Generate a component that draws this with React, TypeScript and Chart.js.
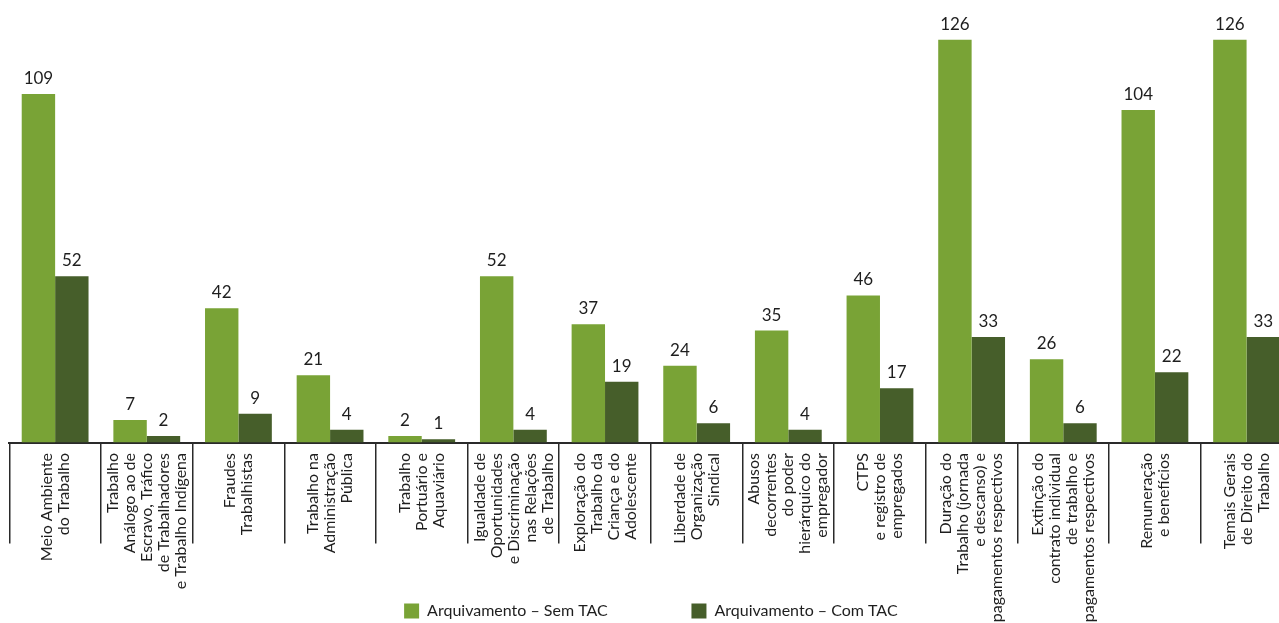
import React, { useEffect, useRef } from "react";
import { Chart, registerables } from "chart.js";

Chart.register(...registerables);

// ---------- data ----------
const categoryLines: string[][] = [
  ["Meio Ambiente", "do Trabalho"],
  ["Trabalho", "Análogo ao de", "Escravo, Tráfico", "de Trabalhadores", "e Trabalho Indígena"],
  ["Fraudes", "Trabalhistas"],
  ["Trabalho na", "Administração", "Pública"],
  ["Trabalho", "Portuário e", "Aquaviário"],
  ["Igualdade de", "Oportunidades", "e Discriminação", "nas Relações", "de Trabalho"],
  ["Exploração do", "Trabalho da", "Criança e do", "Adolescente"],
  ["Liberdade de", "Organização", "Sindical"],
  ["Abusos", "decorrentes", "do poder", "hierárquico do", "empregador"],
  ["CTPS", "e registro de", "empregados"],
  ["Duração do", "Trabalho (jornada", "e descanso) e", "pagamentos respectivos"],
  ["Extinção do", "contrato individual", "de trabalho e", "pagamentos respectivos"],
  ["Remuneração", "e benefícios"],
  ["Temais Gerais", "de Direito do", "Trabalho"],
];

const semTAC: number[] = [109, 7, 42, 21, 2, 52, 37, 24, 35, 46, 126, 26, 104, 126];
const comTAC: number[] = [52, 2, 9, 4, 1, 4, 19, 6, 4, 17, 33, 6, 22, 33];

const seriesNames: string[] = ["Arquivamento – Sem TAC", "Arquivamento – Com TAC"];

const yMin = 0;
const yMax = 138.4;

// ---------- styles ----------
const GREEN = "#79a336";
const DARK = "#465e2a";
const TEXT = "#1e1e1e";
const LINE = "#2a2a2a";
const FONT = "Lato, 'Open Sans', sans-serif";
const VALUE_FONT_SIZE = 17;
const TICK_FONT_SIZE = 16;
const LEGEND_FONT_SIZE = 16;
const LINE_H = 17;
const LEGEND_BOX = 15;
const LEGEND_ITEM_STEP = 288; // distance from first legend box to second

const CANVAS_W = 1300;
const CANVAS_H = 629;
const PAD_LEFT = 9.3;
const PAD_RIGHT = CANVAS_W - (9.3 + 14 * 91.65);

const valueLabelPlugin = {
  id: "valueLabels",
  afterDatasetsDraw(chart: any) {
    const ctx = chart.ctx;
    ctx.save();
    ctx.font = `${VALUE_FONT_SIZE}px ${FONT}`;
    ctx.fillStyle = TEXT;
    ctx.textAlign = "center";
    ctx.textBaseline = "alphabetic";
    chart.data.datasets.forEach((ds: any, di: number) => {
      const meta = chart.getDatasetMeta(di);
      meta.data.forEach((el: any, i: number) => {
        ctx.fillText(String(ds.data[i]), el.x, el.y - 10);
      });
    });
    ctx.restore();
  },
};

const categoryLabelPlugin = {
  id: "categoryLabels",
  afterDraw(chart: any) {
    const ctx = chart.ctx;
    const xs = chart.scales.x;
    const top = xs.top + 10.5;
    ctx.save();
    ctx.font = `${TICK_FONT_SIZE}px ${FONT}`;
    ctx.fillStyle = TEXT;
    ctx.textAlign = "right";
    ctx.textBaseline = "middle";
    categoryLines.forEach((lines, i) => {
      const cx = xs.getPixelForValue(i);
      const n = lines.length;
      lines.forEach((line, j) => {
        const lx = cx + (j - (n - 1) / 2) * LINE_H;
        ctx.save();
        ctx.translate(lx, top);
        ctx.rotate(-Math.PI / 2);
        ctx.fillText(line, 0, 0);
        ctx.restore();
      });
    });
    ctx.restore();
  },
};

function legendSpacer(): string {
  const c = document.createElement("canvas").getContext("2d");
  if (!c) return " ".repeat(18);
  c.font = `${LEGEND_FONT_SIZE}px ${FONT}`;
  const w1 = c.measureText(seriesNames[0]).width;
  const sw = c.measureText(" ").width || 4;
  const need = LEGEND_ITEM_STEP - 10 - LEGEND_BOX - LEGEND_FONT_SIZE / 2 - w1;
  return " ".repeat(Math.max(0, Math.round(need / sw)));
}

export default function App() {
  const canvasRef = useRef<HTMLCanvasElement | null>(null);

  useEffect(() => {
    if (!canvasRef.current) return;
    Chart.defaults.font.family = FONT;
    const spacer = legendSpacer();
    const chart = new Chart(canvasRef.current, {
      type: "bar",
      data: {
        labels: categoryLines.map((l) => l.join(" ")),
        datasets: [
          {
            label: seriesNames[0],
            data: semTAC,
            backgroundColor: GREEN,
            borderWidth: 0,
            barPercentage: 1,
            categoryPercentage: 0.729,
          },
          {
            label: seriesNames[1],
            data: comTAC,
            backgroundColor: DARK,
            borderWidth: 0,
            barPercentage: 1,
            categoryPercentage: 0.729,
          },
        ],
      },
      options: {
        animation: false,
        responsive: true,
        maintainAspectRatio: false,
        layout: { padding: { left: PAD_LEFT, right: PAD_RIGHT, top: 0, bottom: 0 } },
        scales: {
          x: {
            grid: {
              offset: true,
              drawOnChartArea: false,
              drawTicks: true,
              tickLength: 101,
              color: LINE,
              lineWidth: 1.5,
            },
            border: { display: true, color: LINE, width: 2 },
            ticks: { display: false },
            afterFit: (s: any) => {
              s.height = 150.5;
            },
          },
          y: { display: false, min: yMin, max: yMax },
        },
        plugins: {
          tooltip: { enabled: false },
          legend: {
            position: "bottom",
            labels: {
              boxWidth: LEGEND_BOX,
              boxHeight: LEGEND_BOX,
              padding: 10,
              color: TEXT,
              font: { family: FONT, size: LEGEND_FONT_SIZE },
              generateLabels: (c: any) => {
                const items = (Chart.defaults.plugins.legend.labels as any).generateLabels(c);
                items.forEach((it: any, idx: number) => {
                  it.lineWidth = 0;
                  if (idx === 0) it.text = it.text + spacer;
                });
                return items;
              },
            },
          },
        },
      },
      plugins: [valueLabelPlugin, categoryLabelPlugin],
    });
    return () => chart.destroy();
  }, []);

  return (
    <div
      style={{
        position: "fixed",
        left: 0,
        top: 0,
        width: 1279,
        height: 623,
        overflow: "hidden",
        background: "#fff",
      }}
    >
      <div style={{ position: "relative", width: CANVAS_W, height: CANVAS_H }}>
        <canvas ref={canvasRef} />
      </div>
    </div>
  );
}
